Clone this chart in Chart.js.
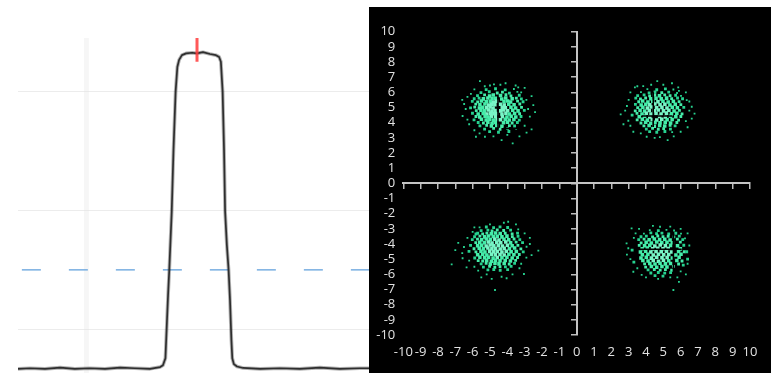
<!DOCTYPE html>
<html>
<head>
<meta charset="utf-8">
<script src="https://cdn.jsdelivr.net/npm/chart.js@4.4.0/dist/chart.umd.min.js"></script>
<style>
  html, body { margin: 0; padding: 0; background: #fff; }
  #wrap { position: relative; width: 771px; height: 373px; overflow: hidden; }
  #specBox { position: absolute; left: 0; top: 0; width: 369px; height: 373px; }
  #constBox { position: absolute; left: 369px; top: 7px; width: 402px; height: 366px; background: #000; }
  canvas { display: block; }
</style>
</head>
<body>
<div id="wrap">
  <div id="specBox"><canvas id="spectrum" width="369" height="373"></canvas></div>
  <div id="constBox"><canvas id="constellation" width="402" height="366"></canvas></div>
</div>
<script>
// spectrum trace (x in % of span, level in dB)
const spectrumX = [0, 3.4, 7.7, 12.0, 16.2, 20.5, 24.8, 29.1, 33.3, 37.6,
  40.5, 41.3, 42.0, 42.45, 42.75, 43.1, 43.8, 44.3, 44.9, 45.4,
  45.9, 46.7, 47.9, 49.6, 51.0, 52.7, 54.7, 56.4, 57.3, 57.8,
  58.3, 58.7, 59.0, 59.5, 60.0, 60.4, 60.8, 61.05, 61.5, 62.4,
  64.1, 69.0, 74.6, 80.3, 86.0, 91.7, 97.4, 100];
const spectrumDb = [-66.7, -66.6, -66.7, -66.5, -66.7, -66.6, -66.7, -66.5, -66.6, -66.7,
  -66.4, -66.1, -64.9, -58.5, -54.3, -50.0, -40.1, -29.8, -20.0, -15.8,
  -14.6, -13.8, -13.5, -13.4, -13.5, -13.3, -13.6, -13.8, -14.1, -14.9,
  -20.0, -29.8, -40.1, -45.8, -50.0, -55.1, -61.9, -64.9, -65.9, -66.3,
  -66.55, -66.7, -66.6, -66.7, -66.5, -66.7, -66.6, -66.6];
const levelTicks = [-20, -40, -60];
const thresholdDb = -50;
const peakMarker = { x: 51.0, top: -10.9, bottom: -14.9 };
const cursorX = 19.5;

// constellation points, one list per quadrant
const clusterTL = [[-5.22,6.18],[-4.68,6.24],[-4.12,6.16],[-3.62,6.22],
  [-5.52,5.98],[-5.04,6.04],[-4.58,5.96],[-4.28,6.02],[-3.88,5.95],[-3.42,6.03],
  [-5.72,5.78],[-5.31,5.83],[-5.02,5.76],[-4.81,5.82],[-4.39,5.79],[-4.08,5.84],[-3.79,5.77],[-3.31,5.81],
  [-5.91,5.58],[-5.63,5.62],[-5.38,5.57],[-5.12,5.63],[-4.88,5.59],[-4.69,5.61],[-4.32,5.56],[-4.09,5.63],[-3.72,5.58],[-3.48,5.62],[-3.19,5.57],
  [-6.02,5.41],[-5.71,5.37],[-5.49,5.43],[-5.21,5.38],[-4.98,5.42],[-4.79,5.36],[-4.61,5.41],[-4.19,5.39],[-3.98,5.43],[-3.81,5.37],[-3.41,5.42],[-3.09,5.38],
  [-5.82,5.22],[-5.58,5.18],[-5.29,5.23],[-5.08,5.17],[-4.91,5.21],[-4.72,5.19],[-4.41,5.22],[-4.18,5.17],[-3.92,5.21],[-3.61,5.18],[-3.28,5.23],
  [-6.12,4.98],[-5.88,5.03],[-5.61,4.97],[-5.42,5.02],[-5.19,4.99],[-4.99,5.03],[-4.82,4.97],[-4.29,5.01],[-4.11,4.98],[-3.79,5.02],[-3.52,4.97],[-3.18,5.01],
  [-5.79,4.79],[-5.52,4.82],[-5.31,4.78],[-5.09,4.83],[-4.89,4.77],[-4.71,4.81],[-4.38,4.78],[-4.21,4.83],[-3.98,4.79],[-3.69,4.82],[-3.38,4.78],[-3.02,4.81],
  [-6.01,4.62],[-5.68,4.58],[-5.39,4.61],[-5.18,4.57],[-4.97,4.63],[-4.78,4.59],[-4.62,4.61],[-4.31,4.58],[-4.08,4.62],[-3.88,4.57],[-3.58,4.61],[-3.29,4.59],
  [-5.81,4.41],[-5.59,4.38],[-5.28,4.42],[-5.11,4.37],[-4.92,4.43],[-4.68,4.39],[-4.28,4.41],[-4.02,4.37],[-3.78,4.42],[-3.51,4.38],[-3.21,4.41],
  [-5.92,4.19],[-5.49,4.22],[-5.22,4.18],[-5.01,4.23],[-4.79,4.17],[-4.59,4.21],[-4.39,4.19],[-4.12,4.22],[-3.89,4.18],[-3.62,4.21],[-3.31,4.17],
  [-5.68,4.01],[-5.38,3.98],[-5.12,4.03],[-4.88,3.97],[-4.68,4.02],[-4.22,3.99],[-3.99,4.03],[-3.72,3.98],[-3.42,4.01],
  [-5.58,3.79],[-5.19,3.82],[-4.92,3.78],[-4.61,3.81],[-4.31,3.77],[-3.88,3.81],[-3.58,3.78],
  [-5.31,3.58],[-4.79,3.62],[-4.42,3.57],[-3.98,3.61],[-3.49,3.59],
  [-5.02,3.41],[-4.51,3.37],[-3.91,3.42],
  [-5.58,6.74],[-4.77,6.53],[-6.58,4.44],[-6.49,5.23],[-5.81,3.07],[-3.69,2.64],[-4.33,2.85],[-2.6,5.75],[-2.5,5.16],
  [-2.6,3.56],[-3.37,6.33],[-3.52,6.45],[-5.29,3.07],[-2.89,3.34],[-6.3,5.7],[-6.2,3.9],[-2.7,4.4],[-4.1,6.6],
  [-6.1,5.9],[-5.9,6.2],[-6.4,4.9],[-6.3,4.2],[-5.9,3.5],[-5.6,3.3],[-4.8,3.1],[-4.0,3.2],[-3.3,3.1],[-3.0,3.8],
  [-2.8,4.9],[-2.9,5.5],[-3.2,6.0],[-3.0,6.3],[-4.4,6.5],[-5.0,6.45],[-5.3,6.4],[-6.6,5.5],[-2.4,4.7]];

const clusterTR = [[4.08,6.21],[4.62,6.17],[5.12,6.23],[5.58,6.19],
  [3.71,6.02],[4.18,5.97],[4.52,6.03],[4.91,5.98],[5.31,6.01],[5.79,5.96],
  [3.52,5.79],[3.89,5.83],[4.21,5.77],[4.49,5.82],[4.78,5.78],[5.08,5.83],[5.39,5.79],[5.71,5.81],[6.02,5.77],
  [3.41,5.62],[3.68,5.57],[3.98,5.63],[4.28,5.58],[4.58,5.61],[4.88,5.57],[5.19,5.62],[5.48,5.59],[5.82,5.63],[6.11,5.58],
  [3.58,5.38],[3.81,5.43],[4.11,5.37],[4.39,5.42],[4.69,5.38],[4.98,5.41],[5.28,5.37],[5.58,5.42],[5.91,5.39],
  [3.39,5.21],[3.72,5.17],[3.99,5.22],[4.22,5.19],[4.51,5.23],[4.81,5.18],[5.09,5.22],[5.38,5.17],[5.69,5.21],[6.01,5.19],
  [3.52,4.99],[3.82,5.02],[4.08,4.97],[4.31,5.03],[4.61,4.98],[4.92,5.01],[5.21,4.97],[5.52,5.02],[5.81,4.99],[6.18,5.01],
  [3.38,4.78],[3.66,4.82],[3.92,4.77],[4.19,4.81],[4.48,4.79],[4.71,4.83],[5.01,4.78],[5.32,4.82],[5.62,4.77],[5.93,4.81],
  [3.48,4.61],[3.77,4.58],[4.02,4.62],[4.29,4.57],[4.58,4.61],[4.87,4.58],[5.18,4.63],[5.47,4.59],[5.78,4.62],[6.08,4.58],
  [3.61,4.39],[3.92,4.42],[4.22,4.38],[4.79,4.41],[5.12,4.37],[5.41,4.42],[5.72,4.39],[6.01,4.41],
  [3.49,4.18],[3.79,4.22],[4.08,4.17],[4.36,4.21],[4.62,4.18],[4.91,4.23],[5.22,4.19],[5.51,4.21],[5.88,4.17],
  [3.71,3.98],[3.98,4.03],[4.28,3.97],[4.52,4.02],[4.81,3.99],[5.11,4.03],[5.42,3.98],[5.78,4.01],
  [3.88,3.79],[4.18,3.82],[4.48,3.77],[4.79,3.81],[5.08,3.78],[5.39,3.82],[5.68,3.79],
  [4.02,3.58],[4.38,3.62],[4.71,3.57],[5.02,3.61],[5.41,3.58],
  [4.21,3.41],[4.62,3.37],[5.09,3.42],[5.51,3.38],
  [2.54,4.55],[4.65,6.74],[5.86,6.33],[6.64,5.05],[6.64,4.27],[5.25,2.85],[4.04,3.07],[3.27,3.4],[2.98,4.13],
  [3.36,6.33],[3.84,6.41],[6.35,5.49],[2.9,5.1],[6.4,3.7],[4.5,3.0],[5.5,6.6],[3.1,3.8],[6.3,6.0],
  [2.8,4.8],[3.0,5.5],[3.1,6.0],[3.5,6.4],[4.3,6.5],[5.0,6.5],[5.9,6.1],[6.5,5.4],[6.5,4.8],[6.3,4.1],
  [6.0,3.4],[5.6,3.1],[4.8,3.05],[3.7,3.3],[3.2,4.5],[2.7,3.9],[6.8,4.6]];

const clusterBL = [[-5.21,-2.88],[-4.79,-2.92],[-4.42,-2.87],[-3.98,-2.91],
  [-5.51,-3.12],[-5.12,-3.08],[-4.88,-3.13],[-4.58,-3.07],[-4.21,-3.11],[-3.81,-3.09],
  [-5.71,-3.29],[-5.42,-3.33],[-5.18,-3.28],[-4.92,-3.32],[-4.68,-3.27],[-4.41,-3.31],[-4.12,-3.29],[-3.72,-3.33],[-3.41,-3.28],
  [-5.89,-3.52],[-5.58,-3.48],[-5.31,-3.53],[-5.08,-3.47],[-4.81,-3.51],[-4.58,-3.49],[-4.31,-3.53],[-4.02,-3.48],[-3.71,-3.51],[-3.38,-3.49],
  [-6.02,-3.71],[-5.72,-3.68],[-5.48,-3.72],[-5.21,-3.67],[-4.98,-3.71],[-4.72,-3.69],[-4.48,-3.73],[-4.19,-3.68],[-3.92,-3.72],[-3.61,-3.67],[-3.28,-3.71],
  [-5.82,-3.91],[-5.59,-3.88],[-5.32,-3.92],[-5.09,-3.87],[-4.88,-3.93],[-4.61,-3.89],[-4.38,-3.91],[-4.09,-3.87],[-3.81,-3.92],[-3.49,-3.88],[-3.12,-3.91],
  [-6.12,-4.09],[-5.71,-4.12],[-5.48,-4.08],[-5.22,-4.13],[-4.99,-4.07],[-4.78,-4.11],[-4.52,-4.09],[-4.28,-4.13],[-3.99,-4.08],[-3.72,-4.12],[-3.39,-4.09],
  [-5.92,-4.31],[-5.62,-4.28],[-5.38,-4.32],[-5.12,-4.27],[-4.89,-4.31],[-4.68,-4.29],[-4.41,-4.33],[-4.18,-4.28],[-3.88,-4.31],[-3.58,-4.27],[-3.22,-4.32],
  [-6.21,-4.49],[-5.81,-4.52],[-5.52,-4.48],[-5.29,-4.53],[-5.02,-4.47],[-4.79,-4.51],[-4.58,-4.49],[-4.31,-4.52],[-4.06,-4.48],[-3.78,-4.51],[-3.48,-4.49],[-3.08,-4.52],
  [-5.71,-4.71],[-5.42,-4.68],[-5.18,-4.72],[-4.92,-4.67],[-4.69,-4.71],[-4.42,-4.69],[-4.18,-4.73],[-3.91,-4.68],[-3.62,-4.71],[-3.31,-4.69],
  [-5.88,-4.92],[-5.58,-4.88],[-5.31,-4.91],[-5.08,-4.87],[-4.82,-4.93],[-4.58,-4.89],[-4.31,-4.91],[-4.02,-4.88],[-3.72,-4.92],[-3.41,-4.89],
  [-5.68,-5.09],[-5.42,-5.12],[-5.19,-5.08],[-4.92,-5.13],[-4.68,-5.07],[-4.42,-5.11],[-4.12,-5.09],[-3.82,-5.12],[-3.52,-5.08],
  [-5.51,-5.31],[-5.22,-5.28],[-4.98,-5.32],[-4.71,-5.27],[-4.48,-5.31],[-4.18,-5.29],[-3.89,-5.33],[-3.58,-5.28],
  [-5.38,-5.52],[-5.02,-5.48],[-4.72,-5.53],[-4.42,-5.49],[-4.11,-5.51],[-3.78,-5.48],
  [-5.12,-5.71],[-4.78,-5.68],[-4.41,-5.73],[-3.98,-5.69],
  [-7.21,-5.34],[-6.83,-3.92],[-6.58,-4.94],[-6.35,-5.54],[-5.81,-3.34],[-4.71,-7.03],[-3.95,-2.53],[-2.21,-4.44],[-2.6,-4.73],
  [-3.04,-5.98],[-4.04,-6.26],[-4.33,-6.16],[-5.19,-6.0],[-5.68,-5.76],[-3.37,-3.03],[-2.89,-4.18],[-6.5,-4.2],[-2.7,-3.6],[-5.9,-2.9],[-3.3,-5.6],
  [-6.0,-3.2],[-6.3,-3.6],[-6.6,-4.6],[-6.2,-5.1],[-5.9,-5.5],[-5.5,-6.2],[-4.9,-6.3],[-3.7,-6.0],[-3.2,-5.3],[-2.9,-4.9],
  [-2.7,-4.0],[-3.0,-3.3],[-3.5,-2.7],[-4.2,-2.6],[-5.0,-2.7],[-5.6,-2.9],[-7.0,-4.4]];

const clusterBR = [[4.22,-3.08],[4.71,-3.12],[5.18,-3.07],[5.62,-3.11],
  [3.88,-3.31],[4.28,-3.27],[4.61,-3.32],[4.92,-3.28],[5.31,-3.33],[5.72,-3.29],[6.02,-3.32],
  [3.71,-3.52],[4.02,-3.48],[4.38,-3.53],[4.68,-3.47],[4.98,-3.51],[5.28,-3.49],[5.61,-3.53],[5.92,-3.48],
  [3.58,-3.71],[3.89,-3.68],[4.18,-3.72],[4.48,-3.67],[4.79,-3.71],[5.08,-3.69],[5.39,-3.73],[5.81,-3.68],[6.12,-3.71],
  [3.72,-3.92],[4.01,-3.88],[4.31,-3.93],[4.62,-3.87],[4.91,-3.91],[5.21,-3.89],[5.52,-3.92],[5.98,-3.88],
  [3.61,-4.09],[3.92,-4.12],[4.22,-4.08],[4.51,-4.13],[4.82,-4.07],[5.12,-4.11],[5.42,-4.09],[5.82,-4.12],[6.18,-4.08],
  [3.78,-4.31],[4.08,-4.27],[4.38,-4.32],[4.68,-4.28],[4.98,-4.31],[5.28,-4.29],[5.98,-4.32],
  [3.68,-4.52],[3.98,-4.48],[4.28,-4.53],[4.58,-4.49],[4.88,-4.51],[5.18,-4.47],[5.48,-4.52],[5.88,-4.49],[6.21,-4.51],
  [3.79,-4.71],[4.11,-4.68],[4.42,-4.72],[4.72,-4.67],[5.02,-4.71],[5.31,-4.69],[5.72,-4.72],[6.02,-4.68],
  [3.71,-4.92],[4.02,-4.88],[4.31,-4.93],[4.62,-4.87],[4.92,-4.91],[5.22,-4.89],[5.52,-4.92],[5.91,-4.88],
  [3.82,-5.09],[4.12,-5.12],[4.42,-5.08],[4.72,-5.13],[5.01,-5.07],[5.31,-5.11],[5.78,-5.09],[6.08,-5.12],
  [3.92,-5.31],[4.22,-5.28],[4.52,-5.32],[4.81,-5.27],[5.12,-5.31],[5.42,-5.29],[5.88,-5.32],
  [3.98,-5.52],[4.31,-5.48],[4.62,-5.53],[4.92,-5.49],[5.21,-5.51],[5.58,-5.48],
  [4.12,-5.71],[4.48,-5.68],[4.82,-5.72],[5.12,-5.69],[5.48,-5.73],
  [4.28,-5.91],[4.71,-5.88],[5.08,-5.92],[5.42,-5.89],
  [4.52,-6.09],[4.98,-6.12],
  [3.17,-2.97],[2.88,-3.96],[2.98,-4.28],[5.58,-7.03],[6.15,-5.39],[6.35,-4.51],[6.25,-3.63],[4.81,-2.86],
  [3.27,-5.83],[3.75,-6.04],[5.81,-6.2],[3.1,-5.0],[6.4,-5.0],[3.4,-3.3],[6.3,-6.0],
  [3.3,-3.6],[3.2,-4.4],[3.3,-5.2],[3.5,-5.6],[4.0,-6.2],[4.7,-6.3],[5.4,-6.2],[6.0,-5.8],[6.4,-5.3],[6.5,-4.1],
  [6.4,-3.3],[6.0,-3.0],[5.4,-2.85],[4.4,-2.8],[3.6,-3.0],[2.9,-4.7],[5.9,-6.5]];

// dark reference cross segments over the clusters
const crossSegments = [
  [[-4.54, 5.71], [-4.54, 3.55]],
  [[-4.25, 3.62], [-3.38, 3.62]],
  [[4.42, 6.0], [4.42, 3.71]],
  [[3.75, 4.44], [5.5, 4.44]],
  [[3.65, -4.35], [6.06, -4.35]],
  [[5.58, -3.3], [5.58, -6.2]]
];
const axisTicks = { min: -10, max: 10, step: 1 };

// ---------- left: spectrum trace ----------
const specCtx = document.getElementById('spectrum').getContext('2d');
const trace = spectrumX.map((x, i) => ({ x: x, y: spectrumDb[i] }));

new Chart(specCtx, {
    type: 'line',
    data: {
        datasets: [
            {
                data: [{ x: peakMarker.x, y: peakMarker.top }, { x: peakMarker.x, y: peakMarker.bottom }],
                borderColor: 'rgba(255, 60, 60, 0.85)', borderWidth: 3, pointRadius: 0
            },
            {
                data: trace, borderColor: '#2e2e2e', borderWidth: 1.7, pointRadius: 0,
                tension: 0, borderJoinStyle: 'round'
            },
            {
                data: trace, borderColor: 'rgba(0, 0, 0, 0.3)', borderWidth: 3.6, pointRadius: 0,
                tension: 0, borderJoinStyle: 'round'
            },
            {
                data: [{ x: 1.1, y: thresholdDb }, { x: 100, y: thresholdDb }],
                borderColor: '#5f9fdc', borderWidth: 1.3, borderDash: [19, 28], pointRadius: 0
            },
            {
                data: [{ x: cursorX, y: peakMarker.top }, { x: cursorX, y: -67.4 }],
                borderColor: 'rgba(225, 225, 225, 0.3)', borderWidth: 5, pointRadius: 0
            }
        ]
    },
    options: {
        responsive: false,
        animation: false,
        events: [],
        layout: { padding: { left: 18, right: 0, top: 0, bottom: 0 } },
        plugins: { legend: { display: false }, tooltip: { enabled: false } },
        scales: {
            x: { type: 'linear', min: 0, max: 100, display: false },
            y: {
                type: 'linear', min: -67.4, max: -4.5,
                afterFit: s => { s.width = 0; },
                afterBuildTicks: s => { s.ticks = levelTicks.map(v => ({ value: v })); },
                ticks: { display: false },
                border: { display: false },
                grid: { color: '#ececec', lineWidth: 1, drawTicks: false }
            }
        }
    }
});

// ---------- right: IQ constellation ----------
const constCtx = document.getElementById('constellation').getContext('2d');

function clusterDataset(points, cx, cy) {
    const dist = p => Math.hypot(p.x - cx, (p.y - cy) * 1.1);
    return {
        type: 'scatter',
        data: points.map(p => ({ x: p[0], y: p[1] })),
        pointStyle: 'rect',
        borderWidth: 0,
        pointRadius: ctx => {
            if (!ctx.raw) return 1.3;
            const d = dist(ctx.raw);
            return d < 1.2 ? 2.5 : (d < 1.7 ? 2.0 : 1.3);
        },
        backgroundColor: ctx => {
            if (!ctx.raw) return '#3ee6a6';
            const d = dist(ctx.raw);
            if (d < 0.7) return '#78f5c6';
            if (d < 1.4) return '#45eca9';
            return '#26d28f';
        }
    };
}

const crossDatasets = crossSegments.map(seg => ({
    type: 'line',
    data: seg.map(p => ({ x: p[0], y: p[1] })),
    borderColor: '#000', borderWidth: 1.5, pointRadius: 0, showLine: true
}));

const tickFont = { family: 'Open Sans', size: 13 };

new Chart(constCtx, {
    type: 'scatter',
    data: {
        datasets: crossDatasets.concat([
            clusterDataset(clusterTL, -4.55, 4.8),
            clusterDataset(clusterTR, 4.7, 4.75),
            clusterDataset(clusterBL, -4.6, -4.3),
            clusterDataset(clusterBR, 4.85, -4.6)
        ])
    },
    options: {
        responsive: false,
        animation: false,
        events: [],
        layout: { padding: { left: 0, right: 21, top: 24.7, bottom: 0 } },
        plugins: { legend: { display: false }, tooltip: { enabled: false } },
        scales: {
            x: {
                type: 'linear', position: 'bottom', min: axisTicks.min, max: axisTicks.max,
                afterFit: s => { s.height = 38; },
                grid: { display: false, drawTicks: false },
                border: { display: false },
                ticks: { stepSize: axisTicks.step, autoSkip: false, maxRotation: 0, color: '#e2e2e2', font: tickFont, padding: 9 }
            },
            y: {
                type: 'linear', position: 'left', min: axisTicks.min, max: axisTicks.max,
                afterFit: s => { s.width = 34.3; },
                grid: { display: false, drawTicks: false },
                border: { display: false },
                ticks: { stepSize: axisTicks.step, autoSkip: false, color: '#e2e2e2', font: tickFont, padding: 8 }
            },
            xc: {
                axis: 'x', type: 'linear', position: { y: 0 }, min: axisTicks.min, max: axisTicks.max,
                ticks: { display: false, stepSize: axisTicks.step, autoSkip: false },
                grid: { drawOnChartArea: false, color: '#bcbcbc', lineWidth: 1.5, tickLength: 5 },
                border: { color: '#c4c4c4', width: 2 }
            },
            yc: {
                axis: 'y', type: 'linear', position: { x: 0 }, min: axisTicks.min, max: axisTicks.max,
                ticks: { display: false, stepSize: axisTicks.step, autoSkip: false },
                grid: { drawOnChartArea: false, color: '#bcbcbc', lineWidth: 1.5, tickLength: 5 },
                border: { color: '#c4c4c4', width: 2 }
            }
        }
    }
});
</script>
</body>
</html>
